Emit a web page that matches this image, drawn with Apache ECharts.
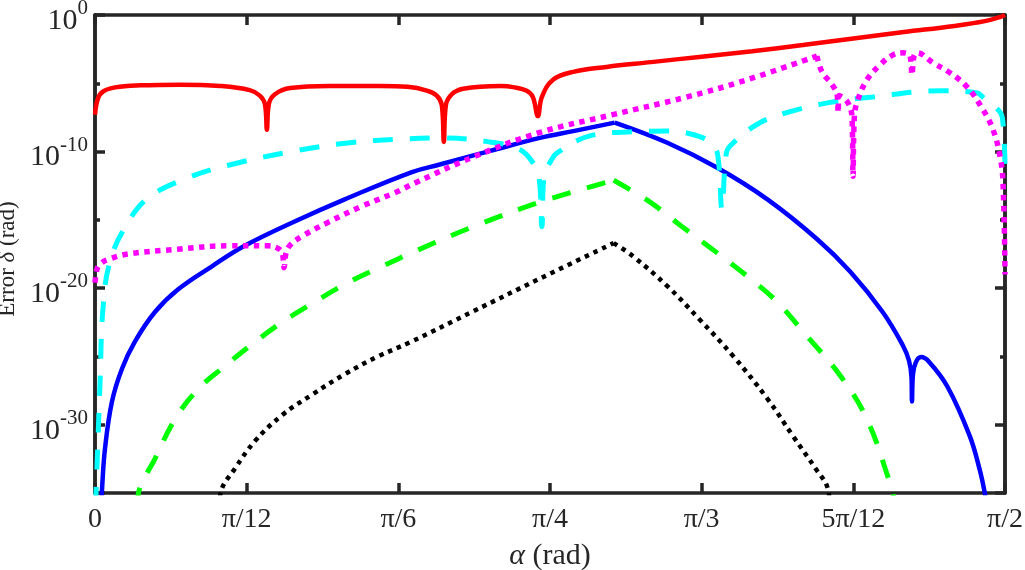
<!DOCTYPE html>
<html>
<head>
    <meta charset="utf-8">
    <script src="https://cdn.jsdelivr.net/npm/echarts@6/dist/echarts.min.js"></script>
    <style>
        html, body { margin: 0; padding: 0; background: #fff; }
    </style>
</head>
<body>
    <div id="main" style="width: 1025px;height:570px"></div>
    <script type="text/javascript">
        // alpha in degrees (axis labels show it as fractions of pi),
        // error as log10(delta)
        var redAlpha = [0, 0.3, 0.8, 2.0, 4.5, 8.4, 12.4, 15.3, 16.3, 16.8, 17.0, 17.2, 17.8, 19.3, 23.2, 28.2, 30.9, 32.9, 33.8, 34.3, 34.5, 34.7, 35.3, 36.4, 40.1, 41.5, 42.7, 43.3, 43.8, 44.2, 45.3, 47.3, 50.6, 55, 60, 65, 70, 75, 80, 85, 88, 89.5, 90];
        var redLog   = [-7.3, -6.1, -5.6, -5.3, -5.15, -5.1, -5.2, -5.5, -5.9, -6.5, -8.4, -6.5, -5.8, -5.35, -5.2, -5.2, -5.26, -5.55, -5.9, -6.6, -9.3, -6.6, -5.8, -5.4, -5.2, -5.3, -5.55, -6.0, -7.4, -6.0, -4.74, -4.16, -3.8, -3.45, -3.05, -2.65, -2.2, -1.72, -1.25, -0.8, -0.45, -0.15, 0];

        var magentaAlpha = [0, 0.2, 0.49, 1.29, 3.26, 8.2, 13.15, 17.1, 18.0, 18.5, 18.7, 18.9, 19.3, 20.5, 23.0, 26.4, 29.7, 31.65, 37.4, 44.0, 51.2, 58.4, 64.5, 71.4, 71.9, 72.9, 73.4, 73.5, 73.6, 74.4, 74.87, 74.97, 75.1, 75.36, 76.35, 77.64, 78.92, 79.91, 80.6, 80.8, 81.0, 81.3, 82.88, 84.56, 86.24, 87.82, 88.81, 89.51, 89.8, 90];
        var magentaLog   = [-19.6, -18.6, -18.25, -17.9, -17.5, -17.15, -16.9, -16.9, -17.05, -17.4, -18.5, -17.4, -16.85, -16.2, -15.2, -14.0, -13.0, -12.3, -10.4, -8.6, -7.3, -6.03, -4.74, -3.0, -4.16, -5.1, -5.84, -7.15, -5.9, -6.35, -7.5, -11.8, -7.5, -6.4, -4.74, -3.65, -2.92, -2.77, -3.0, -4.38, -3.0, -2.77, -3.5, -4.23, -5.26, -6.93, -8.39, -10.36, -12.26, -19.0];
        var magentaKink = 71.4;

        var cyanAlpha = [0.05, 0.2, 0.5, 0.79, 1.5, 3.17, 5.24, 8.9, 13.2, 19.8, 25.2, 30, 34.1, 38.8, 42.0, 43.3, 43.9, 44.2, 44.4, 45.0, 45.7, 49.2, 53.2, 56.6, 59.8, 61.1, 61.6, 62.0, 62.4, 62.8, 65.5, 68.4, 72.7, 76.9, 83.6, 87.2, 87.8, 89.5, 89.8, 90];
        var cyanLog   = [-36, -33, -26.9, -21.5, -18.0, -15.3, -13.4, -12.0, -11.0, -9.95, -9.35, -9.1, -9.0, -9.27, -9.85, -10.8, -11.8, -15.5, -11.8, -10.8, -10.1, -8.8, -8.55, -8.5, -8.9, -9.55, -10.3, -14.2, -10.3, -9.6, -8.0, -7.15, -6.4, -6.0, -5.55, -5.7, -6.0, -7.1, -7.9, -10.9];

        var blueAlpha = [0.62, 0.69, 0.99, 1.68, 2.67, 3.96, 5.93, 8.2, 11.57, 14.8, 19.8, 24.7, 31.35, 34.1, 39.1, 44.0, 47.3, 51.4, 56.55, 61.5, 66.5, 71.4, 74.7, 77.9, 79.9, 80.5, 80.75, 80.8, 80.9, 81.2, 81.7, 82.5, 84.3, 86.5, 87.5, 88.0, 88.2];
        var blueLog   = [-36, -34.8, -31.75, -28.3, -25.9, -23.9, -21.75, -20.1, -18.4, -16.9, -15.1, -13.5, -11.5, -10.95, -9.95, -9.0, -8.5, -7.88, -9.34, -11.17, -13.5, -16.4, -18.8, -21.75, -24.2, -25.3, -26.5, -28.3, -26.3, -25.4, -25.05, -25.4, -27.2, -30.8, -33.3, -35, -36];

        var greenAlpha = [4.2, 4.3, 5.93, 7.91, 10.19, 12.86, 15.53, 18.5, 21.76, 25.0, 28.4, 31.65, 37.4, 44.0, 51.3, 54.9, 58.15, 61.5, 64.8, 67.45, 70.4, 73.7, 76.35, 78.6, 78.9, 79.2];
        var greenLog   = [-36, -35, -32.5, -29.6, -27.4, -25.7, -24.1, -22.5, -21.0, -19.6, -18.4, -17.3, -15.5, -13.7, -12.1, -13.7, -15.55, -17.4, -19.3, -21.0, -23.5, -26.4, -29.6, -34.2, -35, -36.2];

        var blackAlpha = [12.3, 12.45, 13.85, 15.82, 18.5, 21.46, 24.7, 27.99, 31.2, 37.4, 44.0, 51.3, 53.2, 56.6, 59.8, 63.1, 66.5, 69.0, 71.4, 72.4, 72.7];
        var blackLog   = [-36, -34.9, -33.2, -31.2, -29.3, -27.8, -26.3, -25.0, -23.95, -21.7, -19.3, -16.7, -17.66, -19.85, -22.3, -24.96, -28.1, -30.8, -33.35, -34.5, -36];

        // blue, green and black all peak with a sharp corner here
        var blueKink = 51.4;
        var greenKink = 51.3;
        var blackKink = 51.3;

        var xTickLabels = {0: '0', 15: 'π/12', 30: 'π/6', 45: 'π/4', 60: 'π/3', 75: '5π/12', 90: 'π/2'};

        var FONT = 'Liberation Serif';
        var AXIS_COLOR = '#262626';

        function pairs(xs, logs, from, to) {
            var out = [];
            for (var i = 0; i < xs.length; i++) {
                if (from != null && xs[i] < from) continue;
                if (to != null && xs[i] > to) continue;
                out.push([xs[i], Math.pow(10, logs[i])]);
            }
            return out;
        }

        function xAxisDef(pos, withLabels) {
            return {
                type: 'value',
                position: pos,
                min: 0,
                max: 90,
                interval: 15,
                axisLine: { show: true, lineStyle: { color: AXIS_COLOR, width: 3.5 } },
                axisTick: { show: true, inside: true, length: 10, lineStyle: { color: AXIS_COLOR, width: 3.5 } },
                splitLine: { show: false },
                axisLabel: {
                    show: withLabels,
                    margin: 13,
                    color: AXIS_COLOR,
                    fontFamily: FONT,
                    fontSize: 28,
                    formatter: function (v) { return xTickLabels[v] || ''; }
                }
            };
        }

        // decorative tick axes in decades (0 at top, 35 at bottom)
        function yTickAxis(pos, interval, len, withLabels) {
            return {
                type: 'value',
                position: pos,
                inverse: true,
                min: 0,
                max: 35,
                interval: interval,
                axisLine: { show: true, lineStyle: { color: AXIS_COLOR, width: 3.5 } },
                axisTick: { show: true, inside: true, length: len, lineStyle: { color: AXIS_COLOR, width: 3.5 } },
                splitLine: { show: false },
                axisLabel: {
                    show: withLabels,
                    margin: 7,
                    formatter: function (v) {
                        if (v % 10 !== 0) return '';
                        return '{b|10}{s|' + (v === 0 ? '0' : '-' + v) + '}';
                    },
                    rich: {
                        b: { fontFamily: FONT, fontSize: 30, color: AXIS_COLOR, padding: [12, 0, 0, 0] },
                        s: { fontFamily: FONT, fontSize: 21, color: AXIS_COLOR, padding: [0, 0, 13, 0] }
                    }
                }
            };
        }

        var yLeftMajor = yTickAxis('left', 10, 10, true);
        yLeftMajor.name = '{n|Error }{i|δ}{n| (rad)}';
        yLeftMajor.nameLocation = 'middle';
        yLeftMajor.nameGap = 74;
        yLeftMajor.nameTextStyle = {
            padding: [0, 10, 0, 0],
            rich: {
                n: { fontFamily: FONT, fontSize: 23, color: AXIS_COLOR },
                i: { fontFamily: FONT, fontSize: 23, fontStyle: 'italic', color: AXIS_COLOR }
            }
        };

        var xBottom = xAxisDef('bottom', true);
        xBottom.name = '{i|α}{n| (rad)}';
        xBottom.nameLocation = 'middle';
        xBottom.nameGap = 48;
        xBottom.nameTextStyle = {
            rich: {
                n: { fontFamily: FONT, fontSize: 30, color: AXIS_COLOR },
                i: { fontFamily: FONT, fontSize: 30, fontStyle: 'italic', color: AXIS_COLOR }
            }
        };

        function lineSeries(name, data, color, width, type, z) {
            return {
                name: name,
                type: 'line',
                xAxisIndex: 0,
                yAxisIndex: 0,
                data: data,
                showSymbol: false,
                symbol: 'none',
                smooth: 0.4,
                clip: true,
                z: z,
                lineStyle: { color: color, width: width, type: type, cap: 'butt' }
            };
        }

        var chart = echarts.init(document.getElementById('main'));

        var option = {
            animation: false,
            backgroundColor: '#ffffff',
            grid: { left: 95, right: 20, top: 15, bottom: 77, containLabel: false, outerBoundsMode: 'none' },
            xAxis: [xBottom, xAxisDef('top', false)],
            yAxis: [
                { type: 'log', logBase: 10, min: 1e-35, max: 1, show: false },
                yLeftMajor,
                yTickAxis('left', 5, 5, false),
                yTickAxis('right', 10, 10, false),
                yTickAxis('right', 5, 5, false)
            ],
            series: [
                lineSeries('black', pairs(blackAlpha, blackLog, null, blackKink), '#000000', 4.5, [4.5, 5], 2),
                lineSeries('black', pairs(blackAlpha, blackLog, blackKink, null), '#000000', 4.5, [4.5, 5], 2),
                lineSeries('green', pairs(greenAlpha, greenLog, null, greenKink), '#00ff00', 5, [19, 17], 3),
                lineSeries('green', pairs(greenAlpha, greenLog, greenKink, null), '#00ff00', 5, [19, 17], 3),
                lineSeries('blue', pairs(blueAlpha, blueLog, null, blueKink), '#0000ff', 4.5, 'solid', 4),
                lineSeries('blue', pairs(blueAlpha, blueLog, blueKink, null), '#0000ff', 4.5, 'solid', 4),
                lineSeries('cyan', pairs(cyanAlpha, cyanLog), '#00ffff', 5, [20, 17], 5),
                lineSeries('magenta', pairs(magentaAlpha, magentaLog, null, magentaKink), '#ff00ff', 5.5, [5.5, 5.5], 6),
                lineSeries('magenta', pairs(magentaAlpha, magentaLog, magentaKink, null), '#ff00ff', 5.5, [5.5, 5.5], 6),
                lineSeries('red', pairs(redAlpha, redLog), '#ff0000', 4.5, 'solid', 7)
            ]
        };

        chart.setOption(option);
    </script>
</body>
</html>
